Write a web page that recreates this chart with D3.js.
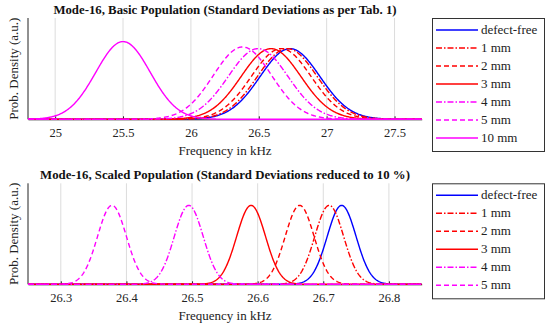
<!DOCTYPE html>
<html>
<head>
<meta charset="utf-8">
<script src="https://cdn.jsdelivr.net/npm/d3@7"></script>
<style>
  body { margin: 0; background: #fff; }
  text { font-family: "Liberation Serif", "DejaVu Serif", serif; }
</style>
</head>
<body>
<div id="chart"></div>
<script>
// series labels (same order in both panels)
const seriesNames = ["defect-free", "1 mm", "2 mm", "3 mm", "4 mm", "5 mm", "10 mm"];

// basic population: mean frequency and std deviation in kHz
const basicMeans = [26.73, 26.71, 26.665, 26.59, 26.495, 26.38, 25.5];
const basicSigmas = [0.22, 0.22, 0.22, 0.22, 0.22, 0.215, 0.2];

// scaled population (std deviations reduced to 10 %), no 10 mm case
const scaledMeans = [26.728, 26.709, 26.664, 26.59, 26.495, 26.378];
const scaledSigmas = [0.022, 0.022, 0.022, 0.022, 0.022, 0.022];

const basicTicks = [25, 25.5, 26, 26.5, 27, 27.5];
const scaledTicks = [26.3, 26.4, 26.5, 26.6, 26.7, 26.8];

const styles = [
  { color: "#0000ff", dash: null },
  { color: "#ff0000", dash: "6,2,1.5,2" },
  { color: "#ff0000", dash: "5,3" },
  { color: "#ff0000", dash: null },
  { color: "#ff00ff", dash: "6,2,1.5,2" },
  { color: "#ff00ff", dash: "5,3" },
  { color: "#ff00ff", dash: null }
];

const FONT = "Liberation Serif, DejaVu Serif, serif";
const W = 550, H = 329;
const svg = d3.select("#chart").append("svg")
  .attr("width", W)
  .attr("height", H);

function normalPdf(x, mu, s) {
  return Math.exp(-0.5 * ((x - mu) / s) ** 2) / (s * Math.sqrt(2 * Math.PI));
}

function drawPanel(opt) {
  const x = d3.scaleLinear().domain(opt.xDomain).range([28, 421.7]);
  const y = d3.scaleLinear().domain([0, opt.yMax]).range([opt.bottom, opt.top]);
  const g = svg.append("g");

  // grid lines
  g.selectAll("line.grid")
    .data(opt.ticks)
    .enter().append("line")
    .attr("x1", d => x(d)).attr("x2", d => x(d))
    .attr("y1", opt.top).attr("y2", opt.bottom)
    .attr("stroke", "#dcdcdc")
    .attr("stroke-width", 1);

  // x axis with ticks pointing inward
  const xAxis = g.append("g")
    .attr("transform", "translate(0," + opt.bottom + ")")
    .call(d3.axisBottom(x).tickValues(opt.ticks).tickSizeInner(-3).tickSizeOuter(0)
      .tickFormat(d3.format("")));
  xAxis.attr("font-family", FONT).attr("font-size", 12.5);
  xAxis.select(".domain").attr("stroke", "#222");
  xAxis.selectAll(".tick line").attr("stroke", "#222");
  xAxis.selectAll("text")
    .attr("y", opt.tickLabelY - opt.bottom)
    .attr("dy", null)
    .attr("fill", "#222");

  // y axis line only
  g.append("line")
    .attr("x1", 28).attr("x2", 28)
    .attr("y1", opt.top).attr("y2", opt.bottom)
    .attr("stroke", "#222");

  // curves
  const xs = d3.range(0, 601).map(i => opt.xDomain[0] + (opt.xDomain[1] - opt.xDomain[0]) * i / 600);
  const line = d3.line().x(d => x(d[0])).y(d => y(d[1]));
  opt.means.forEach((mu, i) => {
    const pts = xs.map(v => [v, normalPdf(v, mu, opt.sigmas[i])]);
    g.append("path")
      .datum(pts)
      .attr("fill", "none")
      .attr("stroke", styles[i].color)
      .attr("stroke-width", 1.4)
      .attr("stroke-dasharray", styles[i].dash)
      .attr("d", line);
  });

  // title
  g.append("text")
    .attr("x", 225).attr("y", opt.titleY)
    .attr("text-anchor", "middle")
    .attr("font-family", FONT)
    .attr("font-size", 12.8)
    .attr("font-weight", "bold")
    .attr("fill", "#111")
    .text(opt.title);

  // x label
  g.append("text")
    .attr("x", 225).attr("y", opt.xLabelY)
    .attr("text-anchor", "middle")
    .attr("font-family", FONT)
    .attr("font-size", 13)
    .attr("fill", "#222")
    .text("Frequency in kHz");

  // y label
  g.append("text")
    .attr("transform", "translate(18," + ((opt.top + opt.bottom) / 2) + ") rotate(-90)")
    .attr("text-anchor", "middle")
    .attr("font-family", FONT)
    .attr("font-size", 13)
    .attr("fill", "#222")
    .text("Prob. Density (a.u.)");

  // legend
  const n = opt.means.length;
  const lg = g.append("g");
  lg.append("rect")
    .attr("x", 432.5).attr("y", opt.top + 0.5)
    .attr("width", 112).attr("height", opt.legendH)
    .attr("fill", "#fff")
    .attr("stroke", "#333");
  seriesNames.slice(0, n).forEach((name, i) => {
    const ly = opt.top + 12 + i * 18;
    lg.append("line")
      .attr("x1", 436).attr("x2", 478)
      .attr("y1", ly).attr("y2", ly)
      .attr("stroke", styles[i].color)
      .attr("stroke-width", 1.4)
      .attr("stroke-dasharray", styles[i].dash);
    lg.append("text")
      .attr("x", 481).attr("y", ly + 4)
      .attr("font-family", FONT)
      .attr("font-size", 13)
      .attr("fill", "#222")
      .text(name);
  });
}

drawPanel({
  title: "Mode-16, Basic Population (Standard Deviations as per Tab. 1)",
  xDomain: [24.8, 27.7],
  ticks: basicTicks,
  means: basicMeans,
  sigmas: basicSigmas,
  yMax: 2.6,
  top: 18, bottom: 119.3,
  titleY: 14, tickLabelY: 137.5, xLabelY: 155,
  legendH: 133
});

drawPanel({
  title: "Mode-16, Scaled Population (Standard Deviations reduced to 10 %)",
  xDomain: [26.25, 26.85],
  ticks: scaledTicks,
  means: scaledMeans,
  sigmas: scaledSigmas,
  yMax: 23.2,
  top: 183.3, bottom: 284.3,
  titleY: 178.5, tickLabelY: 302.5, xLabelY: 320,
  legendH: 115
});
</script>
</body>
</html>
